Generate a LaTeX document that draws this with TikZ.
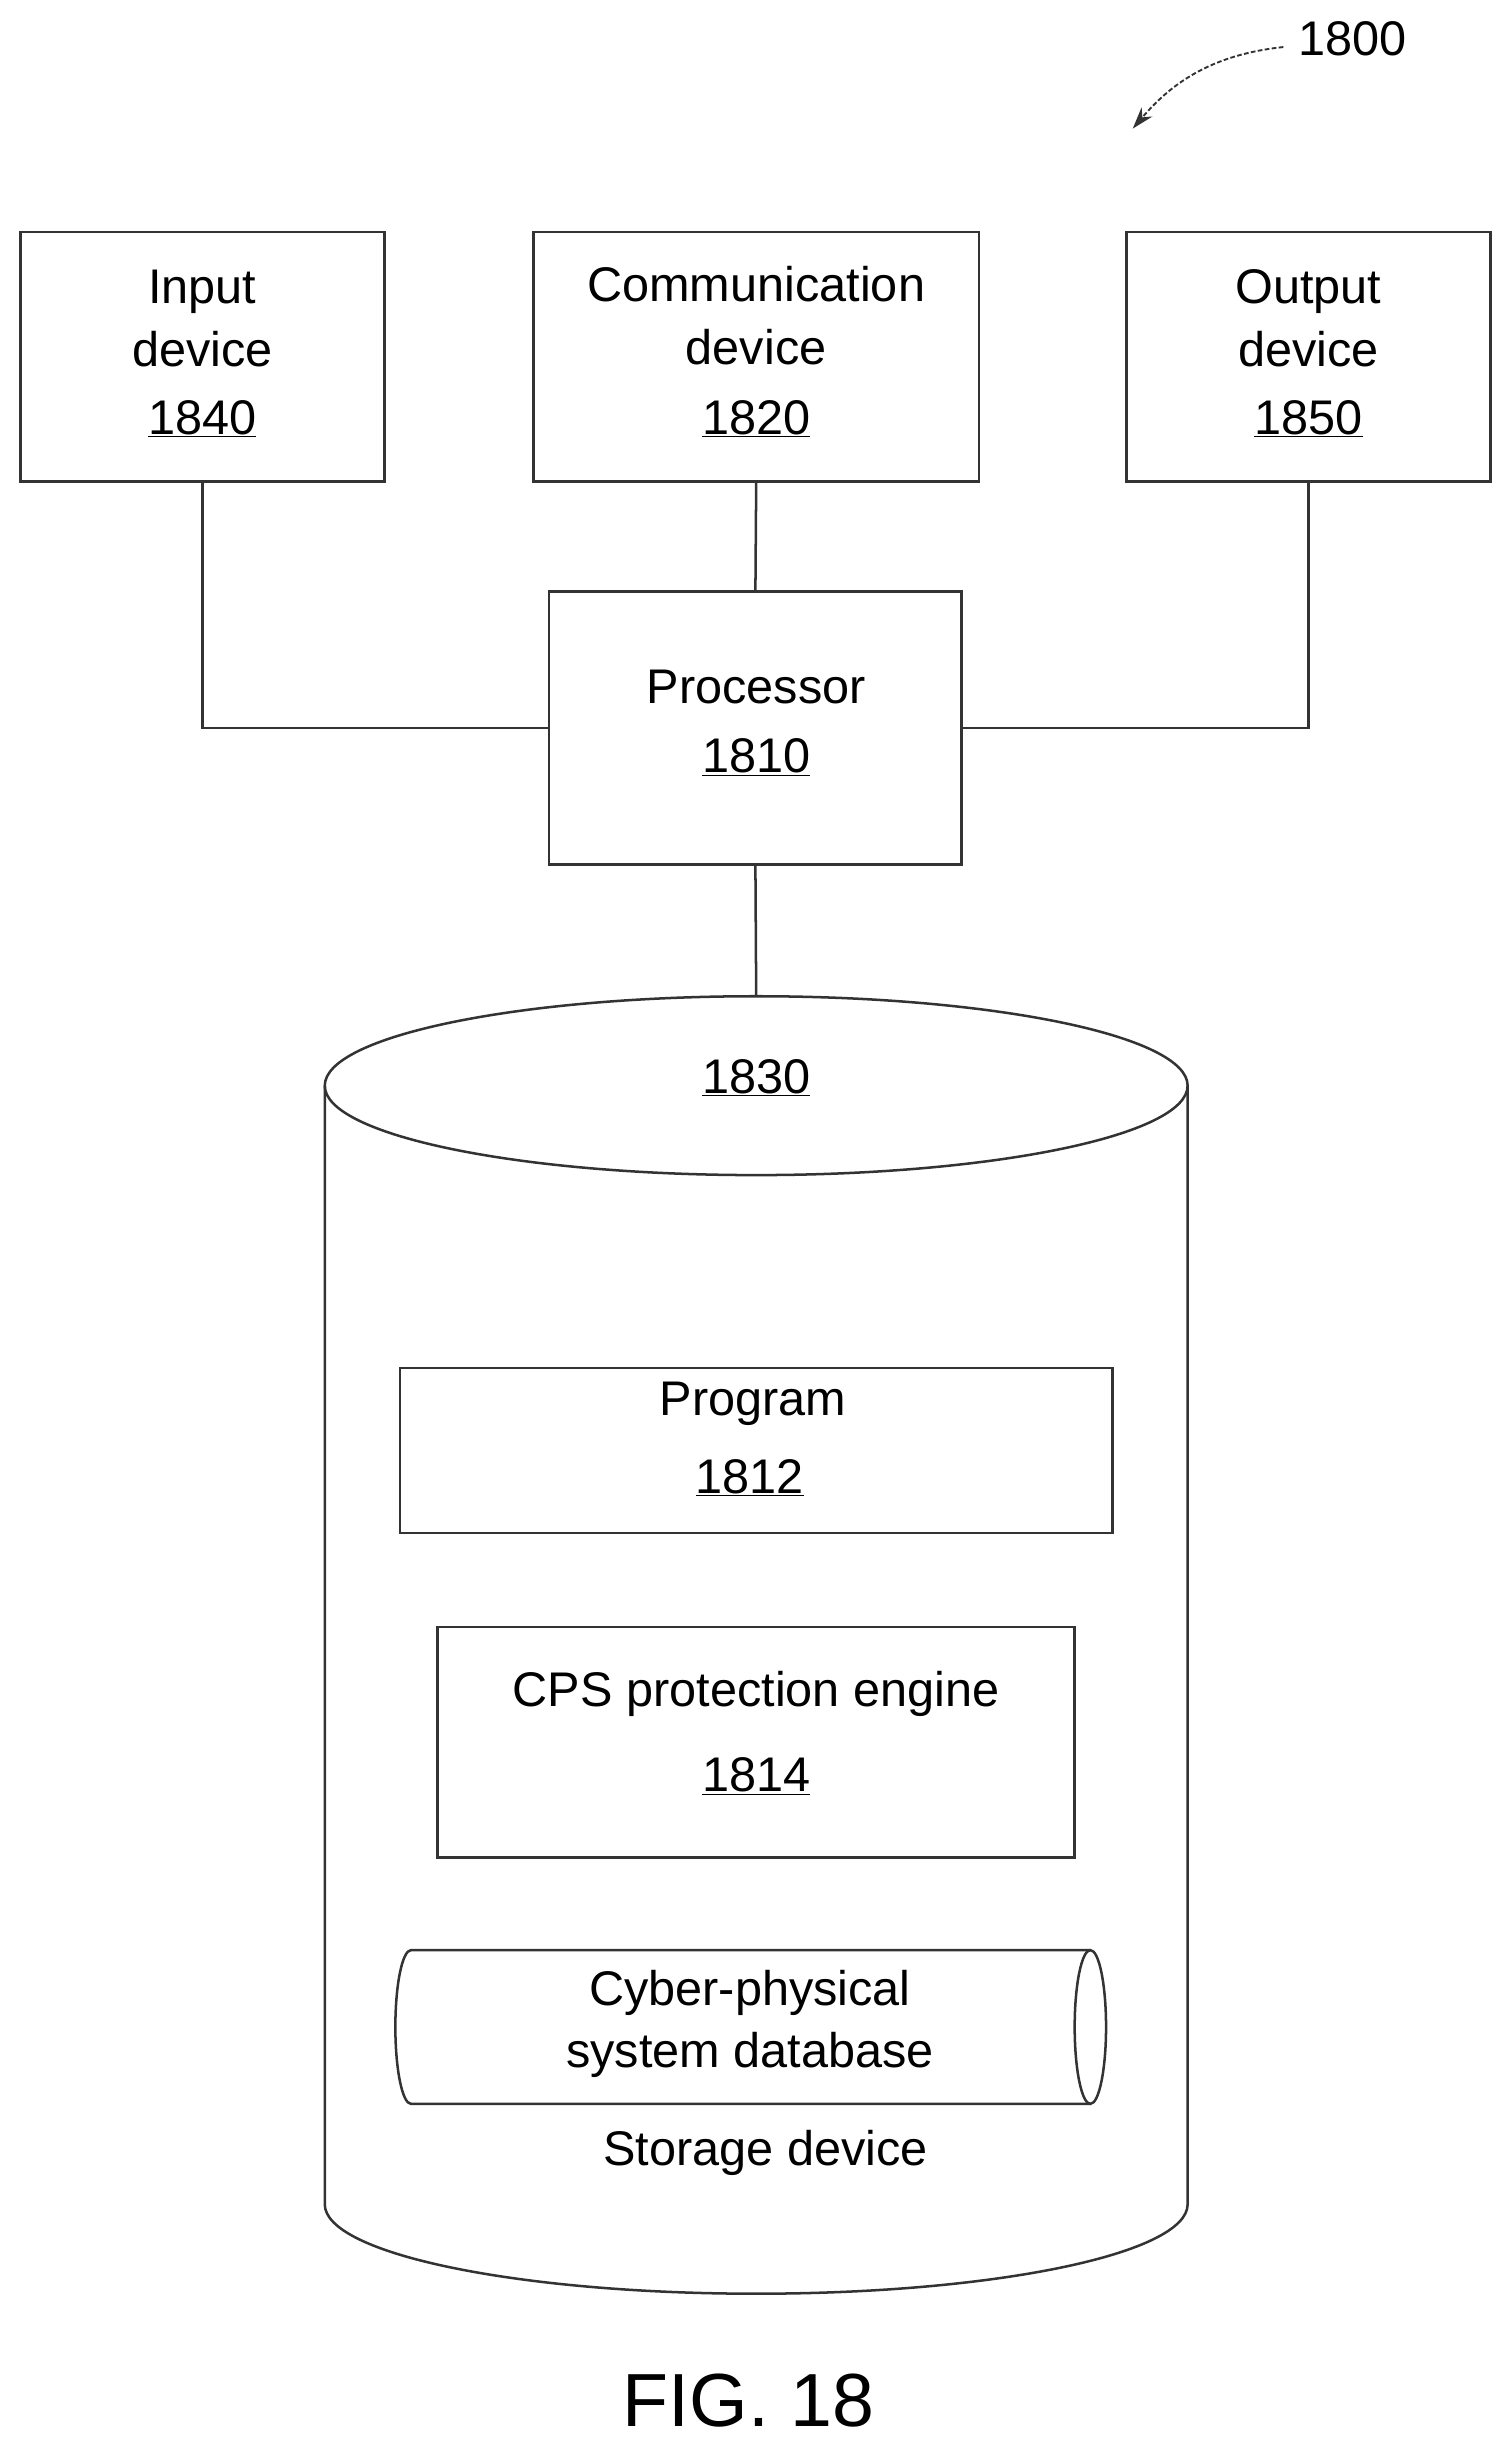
\documentclass[tikz,border=0pt]{standalone}
\usepackage{fontspec}
\setmainfont{Liberation Sans}
\usetikzlibrary{arrows.meta}
\begin{document}
\begin{tikzpicture}[x=1pt,y=1pt,
  ln/.style={draw=black!80,line width=1.6pt},
  box/.style={ln,rectangle,inner sep=0pt,align=center,font=\fontsize{31}{40}\selectfont},
  txt/.style={font=\fontsize{31}{40}\selectfont,align=center}]
\useasboundingbox (0,0) rectangle (960,-1561);
% top boxes
\node[box,minimum width=232,minimum height=159] (in) at (129,-227.5) {};
\node[box,minimum width=284,minimum height=159] (com) at (482,-227.5) {};
\node[box,minimum width=232,minimum height=159] (out) at (834,-227.5) {};
\node[box,minimum width=263,minimum height=174] (proc) at (481.5,-464) {};
\node[txt] at (129,-203) {Input\\device};
\node[txt] at (129,-267) {\underline{1840}};
\node[txt] at (482,-201) {Communication\\device};
\node[txt] at (482,-267) {\underline{1820}};
\node[txt] at (834,-203) {Output\\device};
\node[txt] at (834,-267) {\underline{1850}};
\node[txt] at (482,-438) {Processor};
\node[txt] at (482,-483) {\underline{1810}};
% connectors
\coordinate (cyltop) at (482,-635);
\draw[ln] (in.south) |- (proc.west);
\draw[ln] (out.south) |- (proc.east);
\draw[ln] (com.south) -- (proc.north);
\draw[ln] (proc.south) -- (cyltop);
% storage cylinder
\draw[ln] (207,-692) -- (207,-1405) arc[start angle=180,end angle=360,x radius=275,y radius=57] -- (757,-692);
\draw[ln] (482,-692) ellipse[x radius=275,y radius=57];
\node[txt] at (482,-687) {\underline{1830}};
% inner boxes
\node[box,minimum width=454,minimum height=105] (prog) at (482,-924.5) {};
\node[txt] at (480,-895) {Program};
\node[txt] at (478,-942) {\underline{1812}};
\node[box,minimum width=406,minimum height=147] (cps) at (482,-1110.5) {};
\node[txt] at (482,-1080) {CPS protection engine};
\node[txt] at (482,-1132) {\underline{1814}};
% small horizontal cylinder
\draw[ln] (695,-1243) -- (262,-1243) arc[start angle=90,end angle=270,x radius=10,y radius=49] -- (695,-1341);
\draw[ln] (695,-1292) ellipse[x radius=10,y radius=49];
\node[txt] at (478,-1290) {Cyber-physical\\system database};
\node[txt] at (488,-1372) {Storage device};
% label and figure
\node[txt] (lab) at (862,-25) {1800};
\coordinate (arrtip) at (722,-82);
\draw[ln,line width=1.2pt,dash pattern=on 3pt off 1.5pt,-{Stealth[length=14pt,width=9pt]}] (818,-30) .. controls (770,-35) and (745,-55) .. (arrtip);
\node[font=\fontsize{48}{56}\selectfont] at (477,-1530) {FIG. 18};
\end{tikzpicture}
\end{document}
